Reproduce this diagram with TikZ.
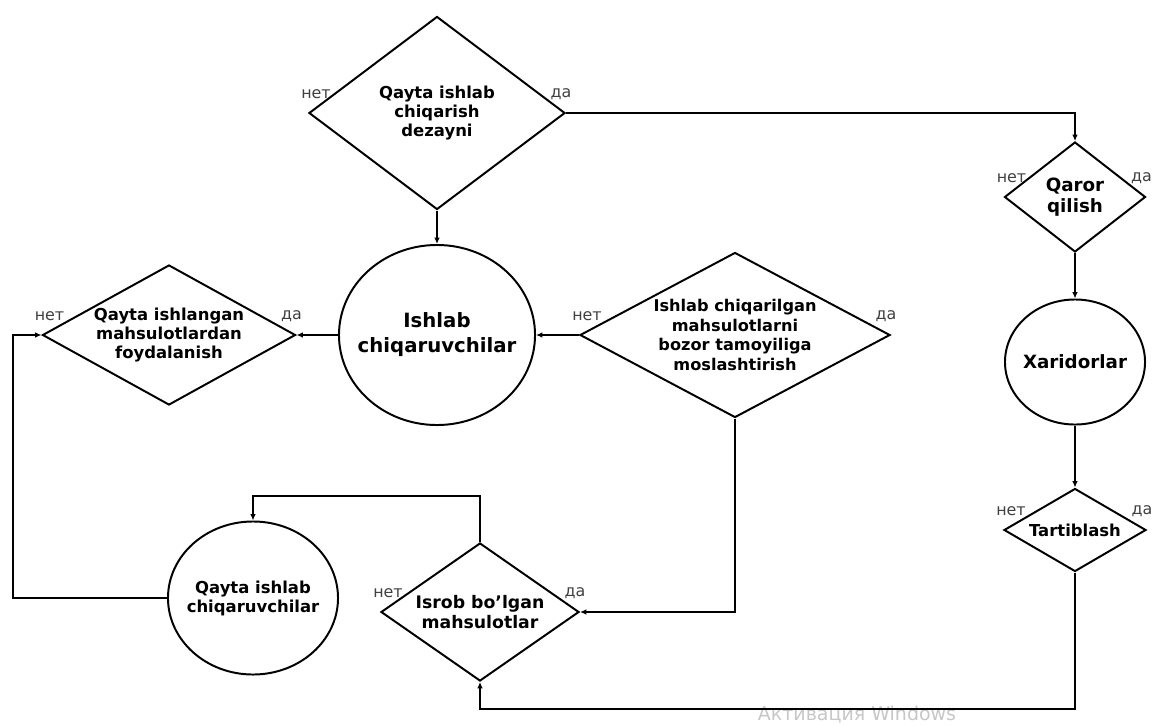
\documentclass[tikz,border=0pt]{standalone}
\usepackage{fontspec}
\setmainfont{DejaVu Sans}
\usetikzlibrary{shapes.geometric,arrows.meta}

\begin{document}
\begin{tikzpicture}[x=0.025cm, y=-0.025cm,
  every path/.style={line width=1.4pt},
  arr/.style={-{Latex[length=4.5pt,width=4pt]}},
  rhomb/.style={diamond, draw, inner sep=0pt, align=center,
    font=\bfseries\fontsize{11.7}{13.5}\selectfont},
  roundbox/.style={ellipse, draw, inner xsep=-10pt, align=center,
    font=\bfseries\fontsize{11.7}{13.5}\selectfont},
  lbl/.style={text=black!75, inner sep=0pt, font=\fontsize{11.3}{12}\selectfont}]
  \useasboundingbox (0,0) rectangle (1152,725);
  % screen watermark
  \node[anchor=base, text=black!22, inner sep=0pt, font=\fontsize{13.5}{16}\selectfont]
    (watermark) at (857,720) {Активация Windows};
  % decisions
  \node[rhomb, aspect=1.33, minimum width=6.4cm, minimum height=4.825cm] (dezayn) at (437,113)
    {Qayta ishlab\\chiqarish\\dezayni};
  \node[rhomb, aspect=1.28, minimum width=3.525cm, minimum height=2.75cm,
    font=\bfseries\fontsize{13}{14.5}\selectfont] (qaror) at (1075,197) {Qaror\\qilish};
  \node[rhomb, aspect=1.71, minimum width=3.55cm, minimum height=2.075cm] (tartib) at (1075,530) {Tartiblash};
  \node[rhomb, aspect=1.43, minimum width=4.95cm, minimum height=3.45cm,
    font=\bfseries\fontsize{12.3}{14}\selectfont] (isrob) at (480,612) {Isrob bo'lgan\\mahsulotlar};
  \node[rhomb, aspect=1.81, minimum width=6.325cm, minimum height=3.5cm] (foyda) at (169,335)
    {Qayta ishlangan\\mahsulotlardan\\foydalanish};
  \node[rhomb, aspect=1.88, minimum width=7.75cm, minimum height=4.125cm,
    font=\bfseries\fontsize{11.5}{14}\selectfont] (bozor) at (735,335)
    {Ishlab chiqarilgan\\mahsulotlarni\\bozor tamoyiliga\\moslashtirish};
  % actors
  \node[roundbox, minimum width=3.5cm, minimum height=3.125cm,
    font=\bfseries\fontsize{13}{15}\selectfont] (xarid) at (1075,362) {Xaridorlar};
  \node[roundbox, minimum width=4.9cm, minimum height=4.5cm,
    font=\bfseries\fontsize{14}{17.8}\selectfont] (ishlab) at (437,335) {Ishlab\\chiqaruvchilar};
  \node[roundbox, minimum width=4.25cm, minimum height=3.825cm] (qayta) at (253,598)
    {Qayta ishlab\\chiqaruvchilar};
  % yes / no labels
  \foreach \d in {dezayn,qaror,tartib,isrob,foyda,bozor}{
    \node[lbl] (no-\d) at ([shift={(8,-19)}]\d.west) {нет};
    \node[lbl] (yes-\d) at ([shift={(-5,-19)}]\d.east) {да};
  }
  % connectors
  \coordinate (bottom) at (480,709);
  \draw[arr] (dezayn.east) -| (qaror.north);
  \draw[arr] (dezayn.south) -- (ishlab.north);
  \draw[arr] (qaror.south) -- (xarid.north);
  \draw[arr] (xarid.south) -- (tartib.north);
  \draw[arr] (tartib.south) |- (bottom) -- (isrob.south);
  \draw[arr] (isrob.north) -- ++(0,-46) -| (qayta.north);
  \draw[arr] (qayta.west) -- ++(-154,0) |- (foyda.west);
  \draw[arr] (ishlab.west) -- (foyda.east);
  \draw[arr] (bozor.west) -- (ishlab.east);
  \draw[arr] (bozor.south) |- (isrob.east);
\end{tikzpicture}
\end{document}
